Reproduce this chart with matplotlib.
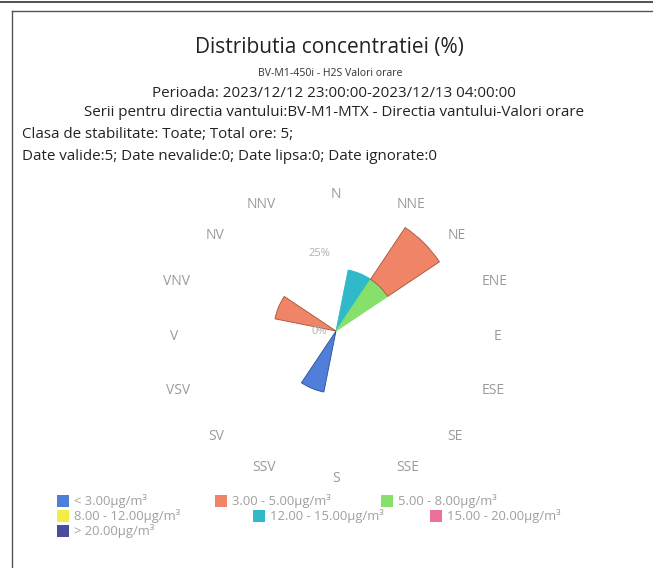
import numpy as np
import matplotlib.pyplot as plt
from matplotlib.patches import Rectangle
from matplotlib.lines import Line2D

plt.rcParams['font.family'] = ['Open Sans', 'DejaVu Sans']

# directions (romanian labels), clockwise from north
directions = ['N', 'NNE', 'NE', 'ENE', 'E', 'ESE', 'SE', 'SSE',
              'S', 'SSV', 'SV', 'VSV', 'V', 'VNV', 'NV', 'NNV']

# frequency (%) per concentration class and direction
lt3 = [0, 0, 0, 0, 0, 0, 0, 0, 0, 20, 0, 0, 0, 0, 0, 0]
c3_5 = [0, 0, 20, 0, 0, 0, 0, 0, 0, 0, 0, 0, 0, 20, 0, 0]
c5_8 = [0, 0, 20, 0, 0, 0, 0, 0, 0, 0, 0, 0, 0, 0, 0, 0]
c8_12 = [0] * 16
c12_15 = [0, 20, 0, 0, 0, 0, 0, 0, 0, 0, 0, 0, 0, 0, 0, 0]
c15_20 = [0] * 16
gt20 = [0] * 16

series = [lt3, c3_5, c5_8, c8_12, c12_15, c15_20, gt20]
labels = ['< 3.00µg/m³', '3.00 - 5.00µg/m³', '5.00 - 8.00µg/m³',
          '8.00 - 12.00µg/m³', '12.00 - 15.00µg/m³', '15.00 - 20.00µg/m³',
          '> 20.00µg/m³']
colors = ['#4f7fd8', '#ef8466', '#86e06a', '#f2ee45', '#2fb9c9', '#ef6f9c', '#4c4c9e']
edges = ['#2c4f95', '#a4533c', '#86e06a', '#f2ee45', '#2fb9c9', '#ef6f9c', '#2e2e70']
rticks = [0, 25]

W, H = 653, 568
fig = plt.figure(figsize=(W / 100, H / 100), dpi=100)

# frame lines
fig.add_artist(Line2D([0, 1], [1 - 2 / H, 1 - 2 / H], color='#333333', lw=1.2))
fig.add_artist(Line2D([12 / W, 1], [1 - 11 / H, 1 - 11 / H], color='#555555', lw=1))
fig.add_artist(Line2D([12 / W, 12 / W], [0, 1 - 11 / H], color='#555555', lw=1))

# titles
fig.text(329 / W, 1 - 48 / H, 'Distributia concentratiei (%)', ha='center', va='center',
         fontsize=15, color='#222222')
fig.text(330 / W, 1 - 73 / H, 'BV-M1-450i - H2S Valori orare', ha='center', va='center',
         fontsize=7.6, color='#333333')
sub = ['Perioada: 2023/12/12 23:00:00-2023/12/13 04:00:00',
       'Serii pentru directia vantului:BV-M1-MTX - Directia vantului-Valori orare']
for i, s in enumerate(sub):
    fig.text(334 / W, 1 - (93 + 20 * i) / H, s, ha='center', va='center',
             fontsize=10.9, color='#222222')
fig.text(22 / W, 1 - 134 / H, 'Clasa de stabilitate: Toate; Total ore: 5;', ha='left',
         va='center', fontsize=10.9, color='#222222')
fig.text(22 / W, 1 - 156 / H, 'Date valide:5; Date nevalide:0; Date lipsa:0; Date ignorate:0',
         ha='left', va='center', fontsize=10.9, color='#222222')

# polar axes
cx, cy, R = 336, 331, 140
rmax = 45
ax = fig.add_axes([(cx - R) / W, 1 - (cy + R) / H, 2 * R / W, 2 * R / H], projection='polar')
ax.set_theta_zero_location('N')
ax.set_theta_direction(-1)
ax.set_ylim(0, rmax)
ax.grid(False)
ax.set_xticks([])
ax.set_yticks([])
ax.spines['polar'].set_visible(False)
ax.patch.set_alpha(0)

theta = np.deg2rad(np.arange(16) * 22.5)
width = np.deg2rad(22.5)
# stacking: first series outermost
bottom = np.zeros(16)
for k in range(len(series) - 1, -1, -1):
    vals = np.array(series[k], dtype=float)
    m = vals > 0
    if m.any():
        ax.bar(theta[m], vals[m], width=width, bottom=bottom[m], color=colors[k],
               edgecolor=edges[k], linewidth=0.6)
    bottom += vals

# direction labels, aligned like highcharts (left on the right side, right on the left)
rx, ry = 158, 142
for i, d in enumerate(directions):
    a = np.deg2rad(i * 22.5)
    px = cx + rx * np.sin(a)
    py = cy - ry * np.cos(a) + 5
    s = np.sin(a)
    ha = 'center' if abs(s) < 0.1 else ('left' if s > 0 else 'right')
    fig.text(px / W, 1 - py / H, d, ha=ha, va='center', fontsize=10, color='#9a9a9a')

# radial labels
scale = R / rmax
for t in rticks:
    fig.text((cx - 17) / W, 1 - (cy - t * scale) / H, '%d%%' % t, ha='center', va='center',
             fontsize=8, color='#b0b0b0')

# legend
leg_pos = [(57, 501), (215, 501), (381, 501), (57, 516), (253, 516), (430, 516), (57, 531)]
for k, (lx, ly) in enumerate(leg_pos):
    fig.add_artist(Rectangle((lx / W, 1 - (ly + 6) / H), 12 / W, 12 / H,
                             facecolor=colors[k], edgecolor='none'))
    fig.text((lx + 17) / W, 1 - ly / H, labels[k], ha='left', va='center',
             fontsize=9.4, color='#a0a0a0')

fig.savefig('out.png', dpi=100)
